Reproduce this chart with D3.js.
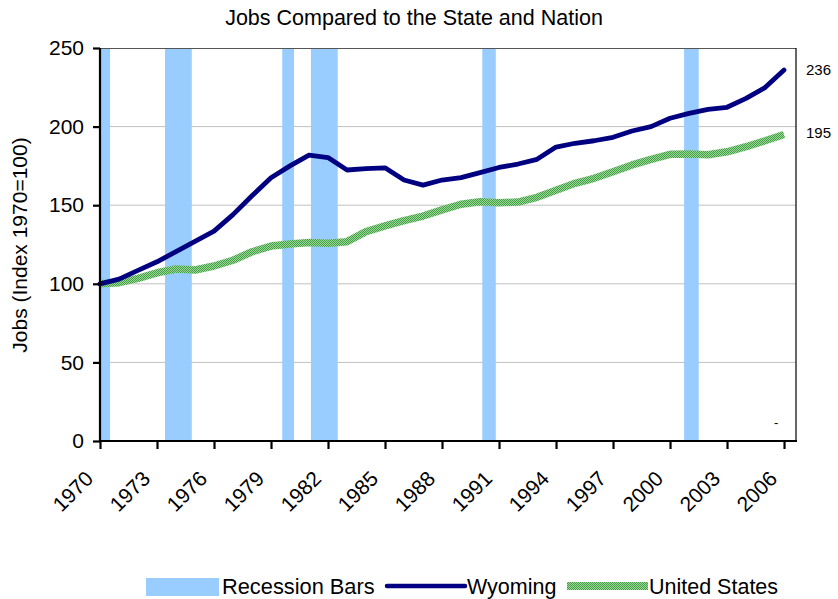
<!DOCTYPE html>
<html>
<head>
<meta charset="utf-8">
<script src="https://cdn.jsdelivr.net/npm/d3@7"></script>
<style>
  body { margin: 0; background: #fff; }
  svg { display: block; font-family: "Liberation Sans", Arial, sans-serif; }
</style>
</head>
<body>
<svg id="chart" width="838" height="599"></svg>
<script>
const years = [1970,1971,1972,1973,1974,1975,1976,1977,1978,1979,1980,1981,1982,1983,1984,1985,1986,1987,1988,1989,1990,1991,1992,1993,1994,1995,1996,1997,1998,1999,2000,2001,2002,2003,2004,2005,2006];
const wyoming = [100,103,108.5,114,120.5,127,133.5,144,156,167.5,175,181.8,180.3,172.4,173.3,173.8,166,162.8,166,167.5,170.7,174,176.2,179.2,187,189.4,191,193.2,197.2,200,205.3,208.4,211,212.3,218,224.8,236];
const unitedStates = [100,100.7,103.5,107,109.4,108.8,111.3,115,120.4,124,125.3,126.2,125.8,126.8,133.2,136.8,140.2,143.1,147,150.6,152.2,151.6,152,155,159.5,163.9,167.1,171.3,175.6,179.2,182.4,182.6,182.1,184,187.2,191,195];
const recessionStart = [1970, 1973.42, 1979.59, 1981.1, 1990.12, 2000.74];
const recessionEnd = [1970.53, 1974.83, 1980.21, 1982.51, 1990.83, 2001.51];
const xTickYears = [1970,1973,1976,1979,1982,1985,1988,1991,1994,1997,2000,2003,2006];
const yTicks = [0,50,100,150,200,250];
const endLabels = ["236","195"];
const legendItems = ["Recession Bars","Wyoming","United States"];
const titleText = "Jobs Compared to the State and Nation";
const yTitle = "Jobs (Index 1970=100)";

const svg = d3.select("#chart");
const L = 100, R = 796, T = 48, B = 441;
const x = d3.scaleLinear().domain([1970, 2006.63]).range([L, R]);
const y = d3.scaleLinear().domain([0, 250]).range([B, T]);

// pattern for US line
const defs = svg.append("defs");
const pat = defs.append("pattern").attr("id","greenPat").attr("patternUnits","userSpaceOnUse")
  .attr("width",2).attr("height",2);
pat.append("rect").attr("width",2).attr("height",2).attr("fill","#9fd89f");
pat.append("rect").attr("width",1).attr("height",1).attr("fill","#3f9f3f");
pat.append("rect").attr("x",1).attr("y",1).attr("width",1).attr("height",1).attr("fill","#3f9f3f");

// title
svg.append("text").attr("x", 414).attr("y", 25).attr("text-anchor","middle")
  .attr("font-size", 21.5).attr("fill","#000").text(titleText);

// gridlines
svg.append("g").selectAll("line").data(yTicks.filter(d => d > 0 && d < 250)).join("line")
  .attr("x1", L).attr("x2", R).attr("y1", d => y(d)).attr("y2", d => y(d))
  .attr("stroke", "#c0c0c0").attr("stroke-width", 1);

// recession bars
svg.append("g").selectAll("rect").data(recessionStart).join("rect")
  .attr("x", d => x(d)).attr("width", (d,i) => x(recessionEnd[i]) - x(d))
  .attr("y", T).attr("height", B - T).attr("fill", "#99ccff");

// plot border top/right
svg.append("line").attr("x1", L).attr("x2", R).attr("y1", T + 0.5).attr("y2", T + 0.5)
  .attr("stroke", "#555").attr("stroke-width", 1);
svg.append("line").attr("x1", R).attr("x2", R).attr("y1", T).attr("y2", B)
  .attr("stroke", "#000").attr("stroke-width", 1.2);

// US line
const line = d3.line().x((d,i) => x(years[i])).y(d => y(d));
svg.append("path").datum(unitedStates).attr("d", line).attr("fill","none")
  .attr("stroke","url(#greenPat)").attr("stroke-width", 7.5).attr("stroke-linejoin","bevel");
// Wyoming line
svg.append("path").datum(wyoming).attr("d", line).attr("fill","none")
  .attr("stroke","#000080").attr("stroke-width", 4.8).attr("stroke-linejoin","round").attr("stroke-linecap","round");

// y axis
const yAxis = svg.append("g").attr("transform", `translate(${L},0)`)
  .call(d3.axisLeft(y).tickValues(yTicks).tickSize(7).tickPadding(9).tickFormat(d3.format("d")));
yAxis.select(".domain").attr("stroke","#000").attr("stroke-width",2.2).attr("d", `M0,${T}V${B}`);
yAxis.selectAll(".tick line").attr("stroke","#000").attr("stroke-width",2.2);
yAxis.selectAll(".tick text").attr("font-size",21).attr("fill","#000").attr("font-family","Liberation Sans, Arial");

// x axis
const xAxis = svg.append("g").attr("transform", `translate(0,${B})`)
  .call(d3.axisBottom(x).tickValues(xTickYears).tickSize(8).tickFormat(d3.format("d")));
xAxis.select(".domain").attr("stroke","#000").attr("stroke-width",2.2).attr("d", `M${L-1},0H${R+1}`);
xAxis.selectAll(".tick line").attr("stroke","#000").attr("stroke-width",2.2);
xAxis.selectAll(".tick text").attr("font-size",21).attr("fill","#000").attr("font-family","Liberation Sans, Arial")
  .attr("text-anchor","end").attr("dy",null).attr("y",null)
  .attr("transform","translate(-6,39) rotate(-45)");

// y title
svg.append("text").attr("transform","translate(27,245) rotate(-90)").attr("text-anchor","middle")
  .attr("font-size", 21).attr("fill","#000").text(yTitle);

// end labels
svg.append("text").attr("x", 806).attr("y", y(wyoming[wyoming.length-1]) + 5).attr("font-size", 15).text(endLabels[0]);
svg.append("text").attr("x", 806).attr("y", y(unitedStates[unitedStates.length-1]) + 4).attr("font-size", 15).text(endLabels[1]);
svg.append("text").attr("x", 774).attr("y", 427).attr("font-size", 13).text("-");

// legend
const lg = svg.append("g");
lg.append("rect").attr("x",146).attr("y",578).attr("width",73).attr("height",18).attr("fill","#99ccff");
lg.append("text").attr("x",222).attr("y",594).attr("font-size",21.8).text(legendItems[0]);
lg.append("line").attr("x1",387).attr("x2",465).attr("y1",586).attr("y2",586).attr("stroke","#000080").attr("stroke-width",4.5).attr("stroke-linecap","round");
lg.append("text").attr("x",467).attr("y",594).attr("font-size",21.5).text(legendItems[1]);
lg.append("rect").attr("x",567).attr("y",582).attr("width",81).attr("height",8).attr("fill","url(#greenPat)");
lg.append("text").attr("x",649).attr("y",594).attr("font-size",21.5).text(legendItems[2]);
</script>
</body>
</html>
